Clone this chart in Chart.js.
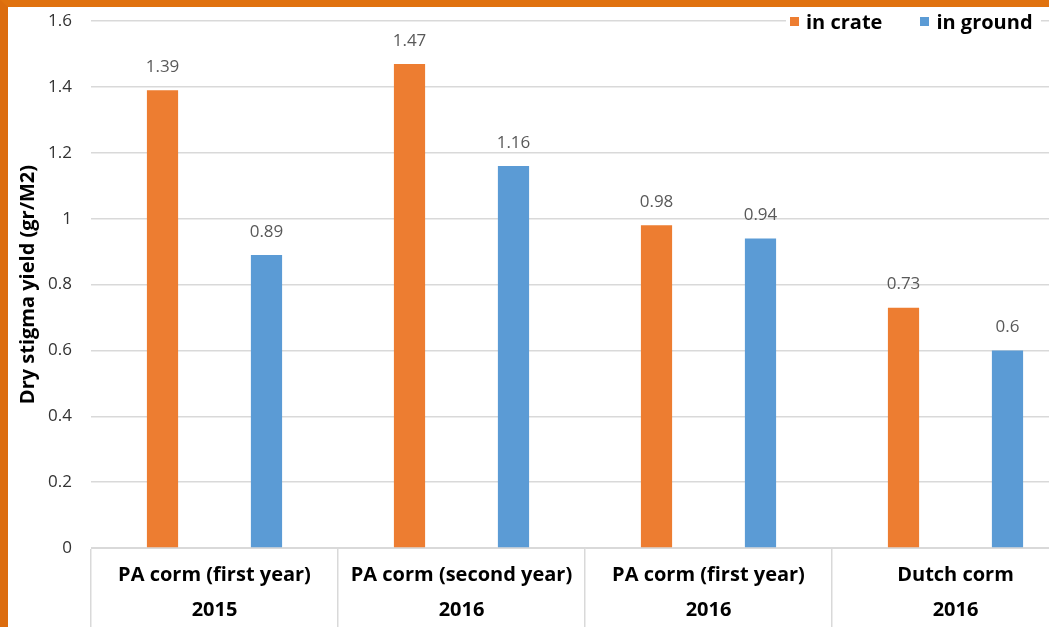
<!DOCTYPE html>
<html>
<head>
<meta charset="utf-8">
<script src="https://cdn.jsdelivr.net/npm/chart.js@4/dist/chart.umd.min.js"></script>
<style>
  body { margin: 0; overflow: hidden; background: #fff; width: 1049px; height: 627px; }
  #frame { position: absolute; left: 0; top: 0; width: 1049px; height: 627px; box-sizing: border-box; z-index: 2;
           border-top: 7px solid #e0720f; border-left: 8px solid #dc6c0e; }
  #wrap { position: absolute; left: 8px; top: -8px; width: 1090px; height: 635px; }
  #legend { position: absolute; left: 786px; top: 9px; height: 24px; padding: 0 8px 0 4px; background: #fff; z-index: 1;
            display: flex; align-items: center; font: bold 20px "Open Sans"; color: #000; }
  #legend .item { display: flex; align-items: center; margin-right: 38px; }
  #legend .item:last-child { margin-right: 0; }
  #legend .sw { width: 9px; height: 9px; margin-right: 7px; }
</style>
</head>
<body>
<div id="frame"></div>
<div id="wrap"><canvas id="myChart" width="1090" height="635"></canvas></div>
<div id="legend"></div>
<script>
// data
const CATEGORIES = ["PA corm (first year)", "PA corm (second year)", "PA corm (first year)", "Dutch corm"];
const YEARS = ["2015", "2016", "2016", "2016"];
const SERIES_NAMES = ["in crate", "in ground"];
const IN_CRATE = [1.39, 1.47, 0.98, 0.73];
const IN_GROUND = [0.89, 1.16, 0.94, 0.6];
const Y_TICKS = [0, 0.2, 0.4, 0.6, 0.8, 1, 1.2, 1.4, 1.6];

const COLOR_CRATE = "#ed7d31";
const COLOR_GROUND = "#5b9bd5";
const GRID_COLOR = "#d9d9d9";
const FONT = "Open Sans";

// legend as html so it can sit over the top gridline like the original
const legend_colors = [COLOR_CRATE, COLOR_GROUND];
SERIES_NAMES.forEach((name, i) => {
  document.getElementById('legend').insertAdjacentHTML("beforeend",
    '<div class="item"><div class="sw" style="background:' + legend_colors[i] + '"></div>' + name + '</div>');
});

// value labels above the bars
const barValueLabels = {
  id: 'barValueLabels',
  afterDatasetsDraw(chart) {
    const ctx = chart.ctx;
    ctx.save();
    ctx.font = '17px "' + FONT + '"';
    ctx.fillStyle = '#595959';
    ctx.textAlign = 'center';
    ctx.textBaseline = 'middle';
    chart.data.datasets.forEach((ds, i) => {
      chart.getDatasetMeta(i).data.forEach((bar, j) => {
        ctx.fillText(String(ds.data[j]), bar.x, bar.y - 23);
      });
    });
    ctx.restore();
  }
};

var ctx = document.getElementById("myChart").getContext("2d");
var yieldChart = new Chart(ctx, {
  type: 'bar',
  data: {
    labels: CATEGORIES.map((c, i) => [c, YEARS[i]]),
    datasets: [
      { label: SERIES_NAMES[0], data: IN_CRATE, backgroundColor: COLOR_CRATE },
      { label: SERIES_NAMES[1], data: IN_GROUND, backgroundColor: COLOR_GROUND },
    ]
  },
  options: {
    responsive: false,
    animation: false,
    devicePixelRatio: 1,
    categoryPercentage: 0.842,
    barPercentage: 0.30,
    layout: { padding: { top: 13, right: 19, left: 0, bottom: 0 } },
    scales: {
      x: {
        afterFit: (scale) => { scale.height = 79; },
        border: { display: true, color: GRID_COLOR, width: 1 },
        grid: {
          offset: true,
          drawOnChartArea: false,
          drawTicks: true,
          tickLength: 80,
          color: GRID_COLOR,
          lineWidth: 1.5,
        },
        ticks: {
          padding: -70,
          color: '#000',
          maxRotation: 0,
          autoSkip: false,
          font: { family: FONT, size: 20, weight: 'bold', lineHeight: 1.75 },
        },
      },
      y: {
        min: 0,
        max: 1.6,
        afterFit: (scale) => { scale.width = 83; },
        afterBuildTicks: (scale) => { scale.ticks = Y_TICKS.map(v => ({ value: v })); },
        border: { display: false },
        grid: { color: GRID_COLOR, lineWidth: 1.5, drawTicks: false },
        ticks: {
          padding: 19,
          color: '#333333',
          font: { family: FONT, size: 17 },
          callback: (val) => String(val),
        },
        title: {
          display: true,
          text: "Dry stigma yield (gr/M2)",
          color: '#000',
          padding: { top: 8, bottom: 0 },
          font: { family: FONT, size: 20, weight: 'bold' },
        },
      },
    },
    plugins: {
      legend: { display: false },
      tooltip: { enabled: false },
    },
  },
  plugins: [barValueLabels],
});
</script>
</body>
</html>
